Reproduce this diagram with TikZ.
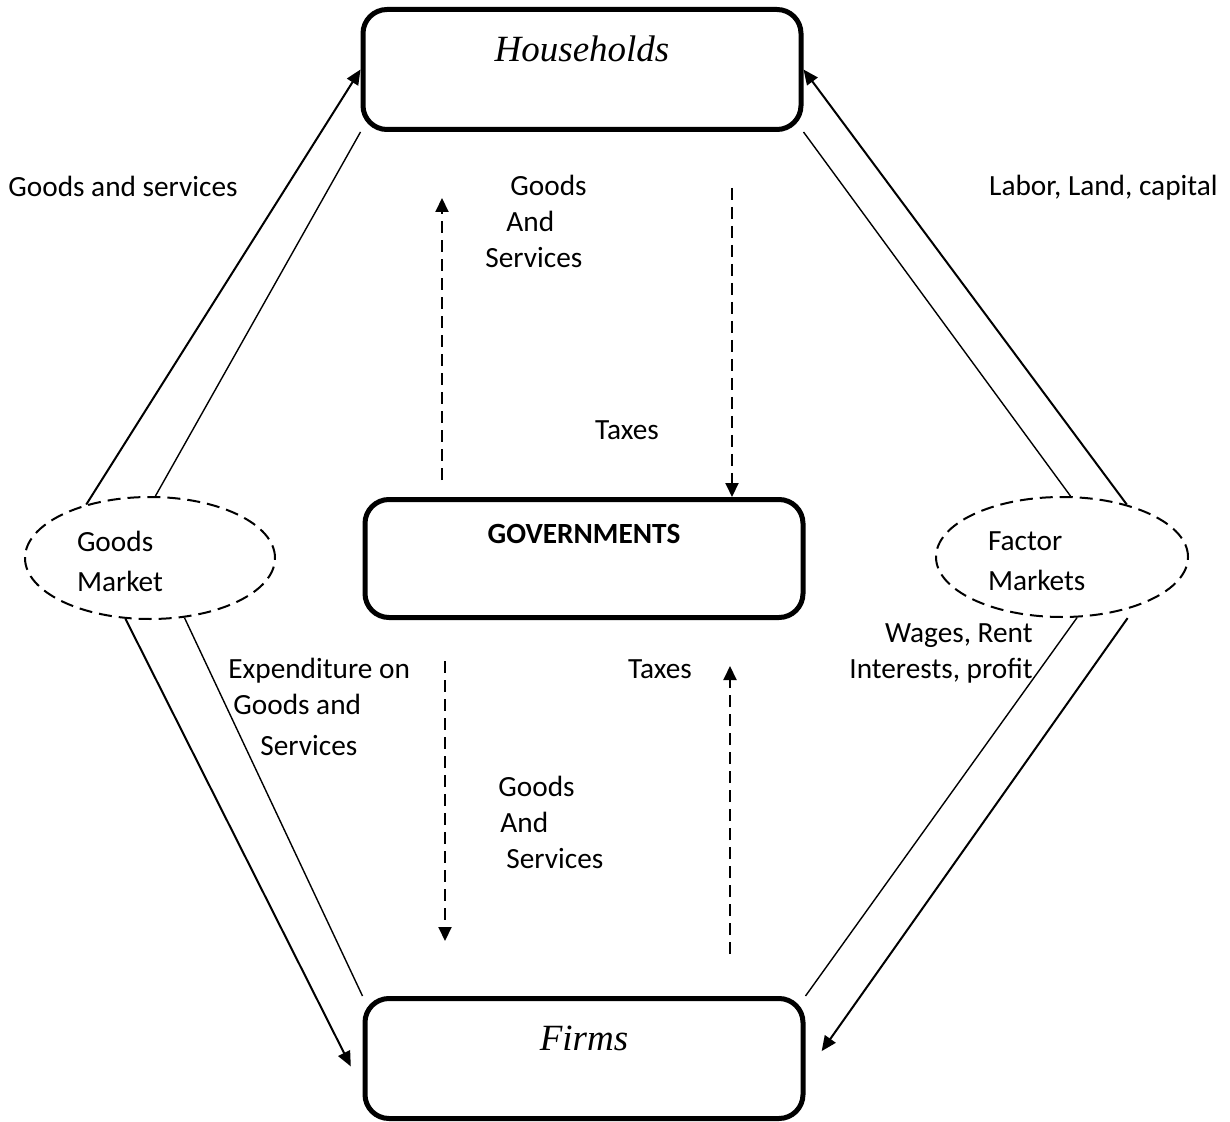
\documentclass[tikz,border=0pt]{standalone}
\usepackage{fontspec}
\setmainfont{Carlito}
\newfontfamily\sectorfont{Liberation Serif}
\usetikzlibrary{arrows.meta, shapes.geometric}
\newcommand{\lblsize}{\fontsize{14.65}{18}\selectfont}

\begin{document}
\begin{tikzpicture}[
    x=0.5pt, y=-0.5pt,
    font=\lblsize,
    sector/.style={rectangle, draw, line width=2.5pt, rounded corners=12pt, inner sep=0pt, text width=219pt, align=center},
    market/.style={ellipse, draw, line width=1pt, dash pattern=on 6.5pt off 3.5pt, inner sep=0pt, minimum width=125pt, minimum height=61pt, align=left, font=\fontsize{14.65}{20}\selectfont},
    flow/.style={line width=1pt},
    thinflow/.style={line width=0.7pt},
    arrowflow/.style={-{Triangle[length=7.5pt, width=6.5pt]}},
    govflow/.style={line width=1pt, dash pattern=on 6pt off 3.5pt, -{Triangle[length=7pt, width=6.5pt]}},
    lbl/.style={inner sep=0pt, align=left},
]
\useasboundingbox (0,0) rectangle (1230,1122);

% sectors
\node[sector, text height=26.25pt, text depth=33.75pt, font=\sectorfont\itshape\fontsize{18.5}{22}\selectfont] (households) at (582,69.5) {Households};
\node[sector, text height=21.75pt, text depth=37.25pt, font=\lblsize\bfseries] (govt) at (584,558.5) {GOVERNMENTS};
\node[sector, text height=25.75pt, text depth=34.25pt, font=\sectorfont\itshape\fontsize{18.5}{22}\selectfont] (firms) at (584,1058.5) {Firms};

% markets
\node[market, text width=73pt] (goodsmkt) at (150,558) {\rule{0pt}{14pt}Goods\\Market};
\node[market, text width=74pt, minimum width=126pt, minimum height=60pt] (factormkt) at (1062,557) {\rule{0pt}{14pt}Factor\\Markets};

% market flows
\draw[flow, arrowflow] (goodsmkt.140) -- (households.west);
\draw[thinflow] (goodsmkt.85) -- (households.south west);
\draw[flow, arrowflow] (factormkt.39) -- (households.east);
\draw[thinflow] (factormkt.82) -- (households.south east);
\draw[flow, arrowflow, shorten >=13pt] (goodsmkt.248) -- (firms.188);
\draw[thinflow] (goodsmkt.300) -- (firms.north west);
\draw[flow, arrowflow, shorten <=7pt, shorten >=14pt] (factormkt.326) -- (firms.356);
\draw[thinflow] (factormkt.284) -- (firms.north east);

% government flows
\draw[govflow, shorten <=8.5pt, shorten >=33pt] ([xshift=-71pt]govt.north) -- ([xshift=-70pt]households.south);
\draw[govflow, shorten <=28pt] ([xshift=75pt]households.south) -- ([xshift=74pt]govt.north);
\draw[govflow, shorten <=20.5pt, shorten >=27.5pt] ([xshift=-69.5pt]govt.south) -- ([xshift=-69.5pt]firms.north);
\draw[govflow, shorten <=21pt, shorten >=23pt] ([xshift=73pt]firms.north) -- ([xshift=73pt]govt.south);

% labels
\node[lbl, anchor=west] (lblgoodsleft) at (8,186) {Goods and services};
\node[lbl, anchor=east] (lbllabor) at (1218,188) {Labor, Land, capital};
\node[lbl, anchor=north west] (lblgoodsgov) at (485,175) {\hspace*{12.5pt}Goods\\\hspace*{10.5pt}And\\Services};
\node[lbl] (lbltaxesup) at (627,430) {Taxes};
\node[lbl] (lbltaxesdown) at (660,669) {Taxes};
\node[lbl, anchor=north west] (lblexpend) at (228,658) {Expenditure on\\\hspace*{2.5pt}Goods and\\[2.5pt]\hspace*{16pt}Services};
\node[lbl, anchor=north east, align=right] (lblwages) at (1033,623) {Wages, Rent\\Interests, profit};
\node[lbl, anchor=north west] (lblgoodsfirms) at (498,776) {Goods\\\hspace*{1pt}And\\\hspace*{4pt}Services};
\end{tikzpicture}
\end{document}
